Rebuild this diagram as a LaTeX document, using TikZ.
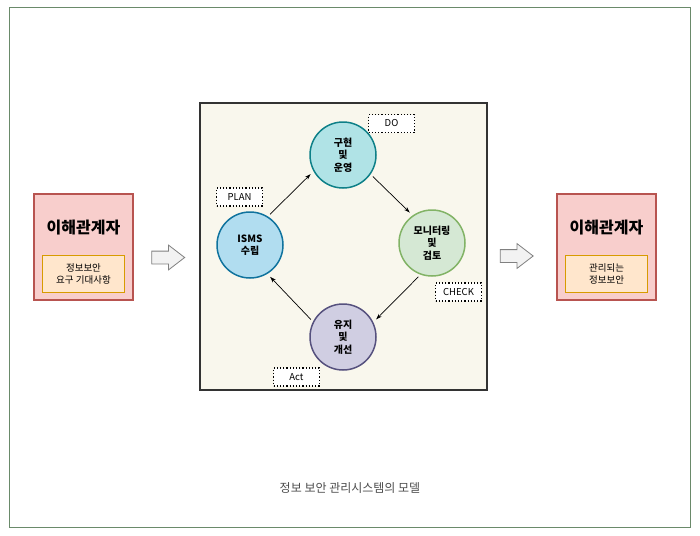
\documentclass[tikz,border=0pt]{standalone}
\usepackage{fontspec}
\setmainfont{Noto Sans CJK KR}
\usetikzlibrary{shapes.arrows}
\usetikzlibrary{arrows.meta}
\definecolor{framegreen}{HTML}{6A8A6A}
\definecolor{redfill}{HTML}{F8CECC}
\definecolor{redline}{HTML}{B85450}
\definecolor{orfill}{HTML}{FFE6CC}
\definecolor{orline}{HTML}{D79B00}
\definecolor{panelfill}{HTML}{F9F7ED}
\definecolor{tealfill}{HTML}{B0E3E6}
\definecolor{tealline}{HTML}{0E8088}
\definecolor{bluefill}{HTML}{B1DDF0}
\definecolor{blueline}{HTML}{10739E}
\definecolor{greenfill}{HTML}{D5E8D4}
\definecolor{greenline}{HTML}{82B366}
\definecolor{purplefill}{HTML}{D0CEE2}
\definecolor{purpleline}{HTML}{56517E}
\tikzstyle{stakebox}=[draw=redline,fill=redfill,line width=2pt,minimum width=99pt,minimum height=106pt,inner sep=0pt]
\tikzstyle{needbox}=[draw=orline,fill=orfill,line width=1.5pt,minimum width=82pt,minimum height=37pt,align=center,font=\fontsize{9.5}{12}\selectfont,inner sep=0pt]
\tikzstyle{stakename}=[font=\fontsize{16}{18}\selectfont\bfseries]
\tikzstyle{phase}=[circle,line width=1.5pt,minimum size=66pt,inner sep=0pt,align=center,font=\fontsize{10}{12.5}\selectfont\bfseries]
\tikzstyle{tag}=[draw,dotted,line width=1.2pt,fill=white,minimum width=46pt,minimum height=18pt,inner sep=0pt,font=\fontsize{9.5}{11}\selectfont]
\tikzstyle{flow}=[-{Stealth[length=6pt,width=4pt]},line width=0.7pt,shorten <=3pt,shorten >=4pt]
\tikzstyle{bigarrow}=[single arrow,draw=gray,fill=gray!10,line width=0.8pt,minimum height=33pt,single arrow head extend=6pt,single arrow tip angle=75,inner xsep=0pt,inner ysep=6pt]
\newcommand{\stakeholder}[3]{
	\node[stakebox] (#1) at (#2) {};
	\node[stakename] at ([yshift=19pt]#1.center) {이해관계자};
	\node[needbox] at ([yshift=-27pt]#1.center) {#3};
}
\begin{document}
\begin{tikzpicture}[x=1pt,y=-1pt]
\useasboundingbox (0,0) rectangle (700,535);
% outer frame
\draw[framegreen,line width=1pt] (9,8) rectangle (690,527);
% stakeholders
\stakeholder{stakeL}{83.5,247}{정보보안\\요구 기대사항}
\stakeholder{stakeR}{606.5,247}{관리되는\\정보보안}
% PDCA panel
\node[draw=black!80,fill=panelfill,line width=1.5pt,minimum width=287pt,minimum height=287pt,inner sep=0pt] (panel) at (343.5,246.5) {};
\node[bigarrow] (arrowL) at (164,257.5) {};
\node[bigarrow] (arrowR) at (512.5,256) {};
% cycle
\node[phase,draw=blueline,fill=bluefill] (isms) at (250,245) {ISMS\\수립};
\node[phase,draw=tealline,fill=tealfill] (impl) at (343,155) {구현\\및\\운영};
\node[phase,draw=greenline,fill=greenfill] (mon) at (432,243) {모니터링\\및\\검토};
\node[phase,draw=purpleline,fill=purplefill] (maint) at (343,337) {유지\\및\\개선};
\draw[flow] (isms.58) -- (impl.209);
\draw[flow] (impl.325) -- (mon.125);
\draw[flow] (mon.250) -- (maint.26);
\draw[flow] (maint.153) -- (isms.301);
% phase tags
\node[tag] (tagdo) at (391.5,123.5) {DO};
\node[tag] (tagplan) at (239.5,197) {PLAN};
\node[tag] (tagcheck) at (458.5,292) {CHECK};
\node[tag] (tagact) at (296.5,377) {Act};
% caption
\node[text=black!70,font=\fontsize{12}{14}\selectfont] (caption) at (350,488) {정보 보안 관리시스템의 모델};
\end{tikzpicture}
\end{document}
